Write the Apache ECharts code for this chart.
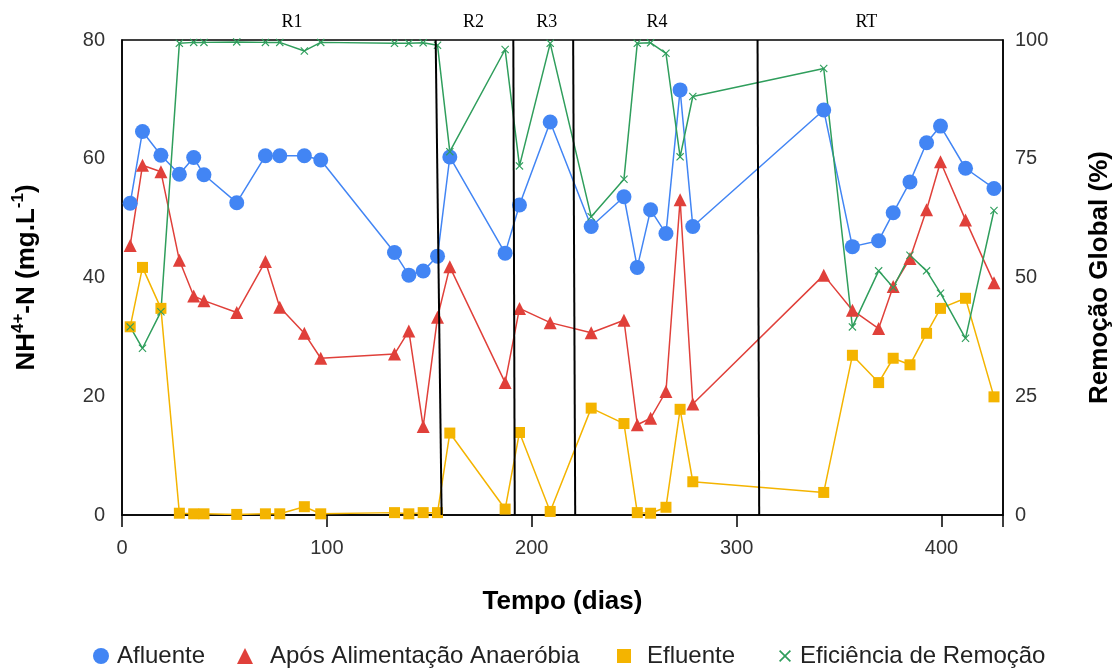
<!DOCTYPE html>
<html>
<head>
<meta charset="utf-8">
<script src="https://cdn.jsdelivr.net/npm/echarts/dist/echarts.min.js"></script>
<style>
  html, body { margin: 0; padding: 0; background: #fff; }
  #chart { width: 1117px; height: 669px; }
</style>
</head>
<body>
<div id="chart"></div>
<script>
// Sampling days (shared by all four series)
const dias = [4, 10, 19, 28, 35, 40, 56, 70, 77, 89, 97, 133, 140, 147, 154,
              160, 187,
              194, 209, 229,
              245, 251.5, 258, 265.5, 272.4, 278.6,
              342.5, 356.5, 369.3, 376.4, 384.6, 392.7, 399.5, 411.7, 425.6];

// NH4+-N (mg/L)
const afluente = [52.5, 64.6, 60.6, 57.4, 60.2, 57.3, 52.6, 60.5, 60.5, 60.5, 59.8, 44.2, 40.4, 41.1, 43.6,
                  60.3, 44.1,
                  52.2, 66.2, 48.6,
                  53.6, 41.7, 51.4, 47.4, 71.6, 48.6,
                  68.2, 45.2, 46.2, 50.9, 56.1, 62.7, 65.5, 58.4, 55.0];
const aposAnaerobia = [45.4, 58.9, 57.8, 42.9, 36.9, 36.1, 34.1, 42.7, 35.0, 30.6, 26.4, 27.1, 31.0, 14.9, 33.3,
                       41.8, 22.3,
                       34.8, 32.4, 30.7,
                       32.8, 15.2, 16.3, 20.8, 53.1, 18.7,
                       40.4, 34.5, 31.4, 38.5, 43.2, 51.4, 59.5, 49.7, 39.1];
const efluente = [31.7, 41.7, 34.8, 0.3, 0.2, 0.2, 0.1, 0.2, 0.2, 1.4, 0.2, 0.4, 0.2, 0.4, 0.4,
                  13.8, 1.0,
                  13.9, 0.6, 18.0,
                  15.4, 0.4, 0.3, 1.3, 17.8, 5.6,
                  3.8, 26.9, 22.3, 26.4, 25.3, 30.6, 34.8, 36.5, 19.9];
// Global removal efficiency (%)
const eficiencia = [39.6, 35.1, 42.8, 99.3, 99.5, 99.5, 99.6, 99.5, 99.5, 97.7, 99.5, 99.3, 99.3, 99.4, 98.9,
                    76.5, 98.0,
                    73.5, 99.3, 62.8,
                    70.7, 99.3, 99.4, 97.2, 75.4, 88.1,
                    94.0, 39.6, 51.4, 47.9, 54.7, 51.4, 46.7, 37.2, 64.1];

// Operational phases: label, label day, boundary day at top / bottom of the frame
const fases = ['R1', 'R2', 'R3', 'R4', 'RT'];
const faseDiaRotulo = [83, 171.6, 207.3, 261.1, 363.3];
const limiteTopo = [153.1, 191.0, 220.2, 310.2];
const limiteBase = [156.0, 191.7, 221.2, 311.0];

const nomes = ['Afluente', 'Após Alimentação Anaeróbia', 'Efluente', 'Eficiência de Remoção'];
const cores = ['#4285f4', '#e0403a', '#f4b400', '#2f9e5c'];
const xSymbol = 'path://M1,0 L5,4 L9,0 L10,1 L6,5 L10,9 L9,10 L5,6 L1,10 L0,9 L4,5 L0,1 Z';

const pares = (ys) => dias.map((d, i) => [d, ys[i]]);

const sans = 'Liberation Sans, Arial, sans-serif';
const tickFont = { fontFamily: sans, fontSize: 20, color: '#333' };
const titleFont = { fontFamily: sans, fontSize: 26, fontWeight: 'bold', color: '#000' };

const chart = echarts.init(document.getElementById('chart'), null, { renderer: 'canvas' });

// Legend entries laid out one by one along the bottom
const legendLefts = [88, 232, 612, 774];
const legendIcons = ['circle', 'triangle', 'rect', xSymbol];
const legendSizes = [16, 16, 14, 12];
const legendTextGap = [3, 12, 11, 4];

const option = {
  animation: false,
  backgroundColor: '#fff',
  grid: {
    left: 122, right: 114, top: 40, bottom: 154,
    outerBoundsMode: 'none', containLabel: false,
    show: true, borderColor: '#000', borderWidth: 1.5
  },
  legend: nomes.map((n, i) => ({
    data: [{ name: n, icon: legendIcons[i] }],
    left: legendLefts[i],
    top: 639,
    itemWidth: legendSizes[i],
    itemHeight: legendSizes[i],
    selectedMode: false,
    textStyle: { fontFamily: sans, fontSize: 24, color: '#222', padding: [0, 0, 0, legendTextGap[i]] }
  })),
  xAxis: {
    type: 'value', min: 0, max: 430, interval: 100,
    name: 'Tempo (dias)', nameLocation: 'middle', nameGap: 74, nameTextStyle: titleFont,
    axisLine: { show: true, lineStyle: { color: '#000', width: 1.5 } },
    axisTick: { show: true, length: 12, lineStyle: { color: '#000', width: 1.5 } },
    axisLabel: { ...tickFont, margin: 23, formatter: v => (v % 100 === 0 ? String(v) : '') },
    splitLine: { show: false }
  },
  yAxis: [
    {
      type: 'value', min: 0, max: 80, interval: 20, position: 'left',
      name: '{b|NH}{s|4+}{b|-N (mg.L}{s|-1}{b|)}', nameLocation: 'middle', nameGap: 82,
      nameTextStyle: {
        rich: {
          b: { ...titleFont, lineHeight: 30, verticalAlign: 'bottom' },
          s: { fontFamily: sans, fontWeight: 'bold', fontSize: 17, color: '#000', lineHeight: 17, verticalAlign: 'top' }
        }
      },
      axisLine: { show: true, lineStyle: { color: '#000', width: 1.5 } },
      axisTick: { show: false },
      axisLabel: { ...tickFont, margin: 17 },
      splitLine: { show: false }
    },
    {
      type: 'value', min: 0, max: 100, interval: 25, position: 'right',
      name: 'Remoção Global (%)', nameLocation: 'middle', nameGap: 84, nameRotate: 90,
      nameTextStyle: titleFont,
      axisLine: { show: true, lineStyle: { color: '#000', width: 1.5 } },
      axisTick: { show: false },
      axisLabel: { ...tickFont, margin: 12 },
      splitLine: { show: false }
    }
  ],
  series: [
    {
      name: nomes[0], type: 'line', yAxisIndex: 0, data: pares(afluente),
      symbol: 'circle', symbolSize: 15,
      itemStyle: { color: cores[0] }, lineStyle: { color: cores[0], width: 1.5 },
      markLine: {
        silent: true, symbol: 'none', animation: false,
        label: { show: false },
        lineStyle: { color: '#000', width: 2, type: 'solid' },
        data: limiteTopo.map((t, i) => [{ coord: [t, 80] }, { coord: [limiteBase[i], 0] }])
      },
      markPoint: {
        silent: true, symbol: 'circle', symbolSize: 0,
        itemStyle: { color: 'rgba(0,0,0,0)' },
        label: {
          show: true, position: 'top', distance: 9,
          fontFamily: 'Liberation Serif, Times New Roman, serif', fontSize: 18, color: '#000',
          formatter: p => p.name
        },
        data: fases.map((f, i) => ({ name: f, coord: [faseDiaRotulo[i], 80] }))
      }
    },
    {
      name: nomes[1], type: 'line', yAxisIndex: 0, data: pares(aposAnaerobia),
      symbol: 'triangle', symbolSize: 13,
      itemStyle: { color: cores[1] }, lineStyle: { color: cores[1], width: 1.5 }
    },
    {
      name: nomes[2], type: 'line', yAxisIndex: 0, data: pares(efluente),
      symbol: 'rect', symbolSize: 11,
      itemStyle: { color: cores[2] }, lineStyle: { color: cores[2], width: 1.5 }
    },
    {
      name: nomes[3], type: 'line', yAxisIndex: 1, data: pares(eficiencia),
      symbol: xSymbol, symbolSize: 8,
      itemStyle: { color: cores[3] }, lineStyle: { color: cores[3], width: 1.5 }
    }
  ]
};

chart.setOption(option);
</script>
</body>
</html>
